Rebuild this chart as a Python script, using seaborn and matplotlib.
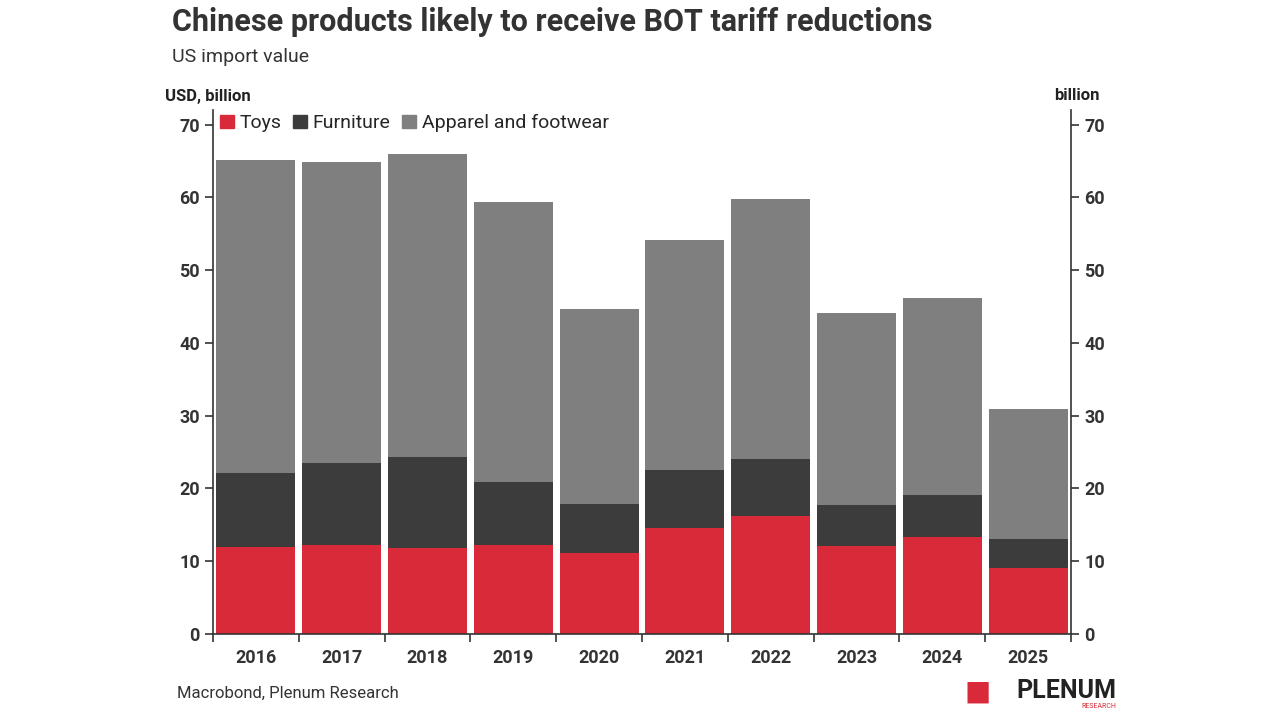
import matplotlib.pyplot as plt
import pandas as pd
import seaborn as sns

years = ["2016", "2017", "2018", "2019", "2020", "2021", "2022", "2023", "2024", "2025"]
toys = [11.9, 12.2, 11.8, 12.2, 11.1, 14.5, 16.2, 12.1, 13.3, 9.1]
furniture = [10.2, 11.3, 12.5, 8.7, 6.7, 8.0, 7.8, 5.6, 5.8, 3.9]
apparel = [43.0, 41.4, 41.6, 38.5, 26.9, 31.6, 35.8, 26.4, 27.0, 17.9]

sns.set_style("white")
plt.rcParams["font.family"] = ["Roboto", "DejaVu Sans"]

df = pd.DataFrame({"year": years, "Toys": toys, "Furniture": furniture,
                   "Apparel and footwear": apparel})
df["t1"] = df["Toys"]
df["t2"] = df["t1"] + df["Furniture"]
df["t3"] = df["t2"] + df["Apparel and footwear"]

fig = plt.figure(figsize=(12.8, 7.2), dpi=100)
ax = fig.add_axes([213 / 1280, 86 / 720, 858 / 1280, (634 - 110) / 720])

colors = {"t3": "#7f7f7f", "t2": "#3c3c3c", "t1": "#d92a3a"}
for col in ["t3", "t2", "t1"]:
    sns.barplot(data=df, x="year", y=col, color=colors[col], width=0.92,
                saturation=1, linewidth=0, ax=ax)

ax.set_ylim(0, 72)
ax.set_xlim(-0.5, 9.5)
ax.set_yticks(range(0, 71, 10))
ax.set_xlabel("")
ax.set_ylabel("")
ax.spines["top"].set_visible(False)
for s in ["left", "right", "bottom"]:
    ax.spines[s].set_color("#333333")
    ax.spines[s].set_linewidth(1.2)
ax.tick_params(axis="y", left=True, right=True, labelright=True, length=6,
               labelsize=13, colors="#333333", width=1.2)
ax.tick_params(axis="x", bottom=False, labelsize=13, colors="#333333", pad=7)
for lab in ax.get_xticklabels() + ax.get_yticklabels():
    lab.set_fontweight("bold")
ax.set_xticks([i + 0.5 for i in range(-1, 10)], minor=True)
ax.tick_params(axis="x", which="minor", bottom=True, length=6, width=1.2, color="#333333")

handles = [plt.Rectangle((0, 0), 1, 1, color=colors[c]) for c in ["t1", "t2", "t3"]]
ax.legend(handles, ["Toys", "Furniture", "Apparel and footwear"], loc="upper left",
          bbox_to_anchor=(-0.012, 1.025), ncol=3, frameon=False, fontsize=14,
          handlelength=0.7, handleheight=0.7, handletextpad=0.3, columnspacing=0.6)

fig.text(172 / 1280, 1 - 22 / 720, "Chinese products likely to receive BOT tariff reductions",
         fontsize=22, fontweight="bold", color="#333333", va="center")
fig.text(172 / 1280, 1 - 57 / 720, "US import value", fontsize=14, color="#333333", va="center")
fig.text(165 / 1280, 1 - 96 / 720, "USD, billion", fontsize=12, fontweight="bold",
         color="#222222", va="center")
fig.text(1100 / 1280, 1 - 96 / 720, "billion", fontsize=12, fontweight="bold",
         color="#222222", va="center", ha="right")
fig.text(177 / 1280, 1 - 693 / 720, "Macrobond, Plenum Research", fontsize=12,
         color="#333333", va="center")
fig.text(1116 / 1280, 1 - 691 / 720, "PLENUM", fontsize=18, fontweight="bold",
         color="#222222", va="center", ha="right")
fig.text(1116 / 1280, 1 - 707 / 720, "RESEARCH", fontsize=5, color="#d92a3a",
         va="center", ha="right")
fig.text(978 / 1280, 1 - 692 / 720, "\u25A0", fontsize=20, color="#d92a3a",
         va="center", ha="center")

fig.savefig("out.png", dpi=100)
